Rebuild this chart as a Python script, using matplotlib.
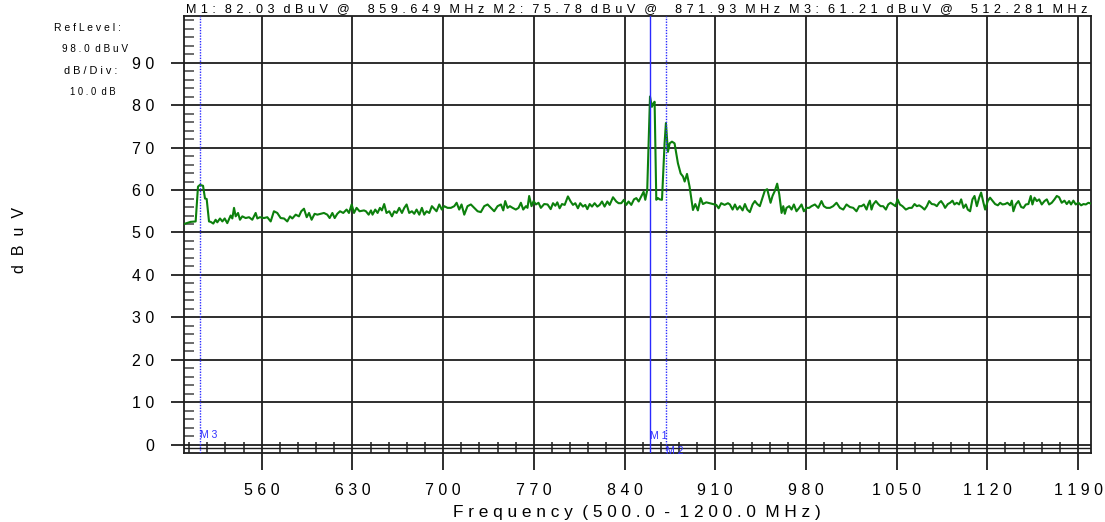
import matplotlib
matplotlib.use("Agg")
import matplotlib.pyplot as plt
import numpy as np

# ---------------- data ----------------
freq_a = [500.0, 502.1, 505.1, 509.0, 510.8, 512.3, 514.7, 516.2, 517.5, 519.3, 520.6, 522.6,
          524.4, 525.7, 527.8, 529.6, 531.4, 533.4, 536.0, 537.3, 538.6, 539.9, 541.7, 543.2,
          545.0, 547.6, 550.2, 552.7, 555.3, 556.6, 558.6, 561.7, 564.3, 566.9, 569.4, 572.0,
          574.6, 577.2, 579.7, 581.8, 583.6, 586.2, 588.7, 590.5, 592.6, 594.7, 596.5, 598.5,
          600.8, 602.9, 605.5, 608.0, 610.6, 612.4, 614.5, 616.3, 618.3, 620.4, 622.9, 625.5,
          627.3, 629.4, 631.2, 633.2, 635.5, 638.9]
level_a = [52.0, 52.2, 52.5, 52.6, 60.8, 61.21, 61.0, 58.0, 57.9, 52.6, 52.5, 52.1,
           53.0, 52.4, 53.3, 52.6, 53.3, 52.2, 54.0, 53.3, 55.8, 53.8, 54.6, 53.0,
           53.8, 53.4, 53.6, 53.0, 54.6, 53.3, 53.6, 53.4, 53.6, 52.6, 55.0, 54.6,
           53.4, 53.3, 52.6, 53.8, 53.3, 54.2, 53.8, 55.0, 55.6, 53.6, 54.6, 53.0,
           54.4, 54.2, 54.4, 54.6, 54.2, 53.4, 54.6, 53.4, 54.4, 55.0, 54.6, 55.4,
           54.6, 56.6, 54.6, 55.8, 55.0, 55.2]

freq_b = [640.4, 642.5, 644.3, 645.5, 647.6, 649.4, 651.2, 652.7, 654.5, 656.3,
          658.4, 660.5, 662.3, 664.1, 666.1, 668.2, 670.0, 671.8, 673.8, 675.9,
          677.7, 679.5, 681.6, 683.6, 685.4, 687.2, 689.3, 691.3, 693.1, 694.9,
          697.0, 699.0, 700.8, 703.4, 706.0, 708.6, 710.4, 712.4, 714.2, 716.3,
          718.8, 721.4, 724.0, 726.6, 729.1, 731.7, 734.3, 736.9, 739.4, 742.0,
          744.6, 746.4, 747.9, 749.7, 751.5, 753.6, 756.1, 758.2, 760.0, 761.8,
          763.9, 765.1, 766.4, 768.2, 769.8, 771.6, 773.6, 775.4, 778.0, 780.6]
level_b = [55.0, 54.2, 55.2, 54.2, 55.4, 54.6, 55.8, 55.2, 56.7, 54.6,
           55.0, 53.8, 55.0, 54.6, 55.8, 54.6, 55.8, 56.6, 54.6, 55.0,
           54.4, 55.4, 54.2, 55.8, 54.2, 55.0, 54.6, 56.2, 55.6, 55.0,
           56.6, 55.4, 56.2, 55.8, 55.8, 56.2, 57.0, 55.4, 56.6, 54.2,
           56.2, 56.6, 55.8, 55.0, 54.8, 56.2, 56.6, 55.8, 55.0, 56.2,
           56.6, 55.2, 57.4, 55.8, 56.2, 55.8, 55.4, 55.8, 57.0, 55.4,
           56.2, 55.8, 58.6, 56.2, 57.4, 56.6, 57.0, 55.8, 56.7, 56.6]

freq_c = [783.0, 784.8, 786.6, 788.1, 789.9, 791.7, 793.8, 796.3, 798.4,
          800.2, 802.0, 804.0, 805.8, 807.9, 809.7, 811.3, 813.1, 814.9, 816.9,
          819.0, 820.8, 822.6, 824.6, 826.7, 828.5, 831.1, 833.6, 835.4, 837.5,
          839.5, 841.3, 843.1, 845.2, 847.3, 849.1, 850.9, 852.9, 854.7, 856.0,
          857.5, 859.649, 861.1, 862.2, 863.2, 864.5, 865.8, 867.1, 868.9, 870.9,
          871.93, 873.5, 874.8, 876.6, 878.6, 881.2, 883.3, 885.1, 886.4, 888.2,
          890.2, 892.8, 894.6, 896.6, 898.7, 900.5, 903.1, 905.6, 908.2, 910.8,
          912.6, 914.6, 917.2, 919.8]
level_c = [55.5, 56.9, 56.3, 57.1, 55.7, 56.7, 56.5, 58.5, 57.3,
           56.5, 56.9, 55.7, 56.9, 56.1, 56.5, 55.5, 56.7, 56.1, 56.9,
           56.1, 56.5, 57.3, 56.1, 57.3, 56.5, 58.3, 57.3, 56.9, 56.9,
           57.7, 56.5, 57.3, 56.5, 57.8, 58.1, 57.3, 58.5, 59.6, 57.7,
           60.0, 82.03, 79.6, 80.4, 80.8, 57.7, 58.1, 57.8, 57.7, 71.0,
           75.78, 69.0, 71.0, 71.4, 71.0, 66.3, 63.9, 63.2, 62.0, 63.8,
           60.8, 55.3, 56.7, 55.2, 58.1, 56.7, 57.1, 56.9, 56.7, 56.5,
           55.7, 56.9, 56.5, 56.9]

freq_d = [921.3, 923.4, 925.2, 927.0, 929.0, 931.1, 932.9, 934.7, 936.7, 938.8,
          940.6, 942.4, 944.4, 946.5, 948.3, 950.1, 951.7, 952.7, 954.2, 956.0,
          957.8, 959.4, 961.2, 962.5, 963.7, 965.0, 967.1, 968.9, 970.7, 972.7,
          974.8, 976.6, 978.4, 980.5, 982.5, 984.3, 986.9, 989.5, 992.0, 993.8,
          995.9, 998.5, 1001.0, 1003.6, 1006.2, 1008.8, 1011.3, 1013.9, 1016.5, 1019.0,
          1021.1, 1022.9, 1024.7, 1026.8, 1028.0, 1029.3, 1030.6, 1031.9, 1034.0, 1035.8,
          1037.6, 1039.6, 1041.7, 1043.5, 1045.3, 1047.3, 1049.1, 1050.7, 1052.5, 1054.5,
          1057.1, 1059.7]
level_d = [56.6, 55.4, 56.6, 55.4, 56.2, 55.2, 56.7, 55.4, 54.8, 56.6,
           57.4, 56.7, 56.2, 58.2, 59.9, 60.2, 58.2, 57.0, 58.6, 59.8,
           61.5, 59.0, 54.6, 56.2, 54.4, 55.8, 56.2, 55.4, 56.6, 55.0,
           55.8, 56.6, 55.0, 55.8, 55.8, 56.2, 56.6, 55.8, 57.4, 56.2,
           55.8, 55.8, 56.2, 57.0, 55.8, 55.4, 56.6, 56.0, 55.8, 55.0,
           56.2, 56.2, 56.6, 55.4, 56.6, 57.5, 55.4, 56.6, 57.4, 56.7,
           56.2, 56.2, 55.4, 56.6, 57.0, 56.6, 56.2, 57.8, 56.6, 56.2,
           55.4, 55.8]

freq_e = [1061.7, 1063.8, 1065.6, 1067.4, 1069.4, 1071.5, 1073.3, 1075.1, 1077.1, 1079.2,
          1081.0, 1082.8, 1084.3, 1086.1, 1087.4, 1089.5, 1091.3, 1093.1, 1094.6, 1096.4,
          1098.2, 1099.8, 1101.6, 1103.4, 1104.9, 1106.7, 1108.5, 1110.1, 1111.9, 1113.7,
          1115.2, 1117.0, 1118.3, 1120.3, 1122.1, 1123.9, 1126.0, 1128.1, 1129.9, 1131.7,
          1133.7, 1135.5, 1137.6, 1138.9, 1140.1, 1141.9, 1144.0, 1146.1, 1147.9, 1149.7,
          1151.7, 1153.5, 1154.8, 1156.4, 1158.2, 1160.0, 1162.0, 1164.1, 1165.9, 1167.7,
          1169.7, 1171.8, 1173.6, 1175.4, 1177.4, 1179.5, 1181.3, 1183.1, 1184.6, 1186.4,
          1188.2, 1190.3, 1192.4, 1194.2, 1196.0, 1198.0, 1200.0]
level_e = [55.8, 56.7, 56.2, 56.4, 56.0, 55.4, 56.2, 57.4, 56.7, 56.6,
           56.2, 57.0, 57.4, 56.6, 55.8, 56.7, 57.0, 57.5, 56.6, 57.0,
           56.6, 57.8, 55.8, 56.6, 55.4, 55.0, 57.8, 58.6, 56.2, 58.2,
           59.4, 57.0, 55.4, 57.4, 58.2, 57.5, 56.7, 56.4, 57.0, 56.6,
           56.7, 57.0, 56.4, 57.5, 55.0, 56.6, 57.4, 56.0, 55.8, 56.6,
           56.7, 58.6, 56.6, 58.2, 57.4, 57.8, 56.6, 57.4, 57.8, 56.6,
           57.0, 57.8, 58.6, 58.3, 57.0, 57.5, 56.7, 57.4, 56.6, 57.5,
           56.6, 57.0, 56.4, 56.7, 56.6, 57.0, 56.8]

freq = np.array(freq_a + freq_b + freq_c + freq_d + freq_e)
level = np.array(level_a + level_b + level_c + level_d + level_e)

marker_names = ["M1", "M2", "M3"]
marker_freq = [859.649, 871.93, 512.281]
marker_level = [82.03, 75.78, 61.21]

xticks = [560, 630, 700, 770, 840, 910, 980, 1050, 1120, 1190]
yticks = [0, 10, 20, 30, 40, 50, 60, 70, 80, 90]

ref_level = 98.0
db_div = 10.0
f_start, f_stop = 500.0, 1200.0


def spaced(s, gap=" "):
    """Letter-spaced rendering: one gap between letters, two between words."""
    return (gap * 2).join(gap.join(w) for w in s.split(" "))


# ---------------- figure ----------------
W, H = 1105, 522
plt.rcParams["font.family"] = ["Liberation Sans", "DejaVu Sans"]
fig = plt.figure(figsize=(W / 100, H / 100), dpi=100)
fig.patch.set_facecolor("white")
ax = fig.add_axes([184 / W, 1 - 453 / H, (1091 - 184) / W, (453 - 16) / H])
ax.set_xlim(f_start, f_stop)
ax.set_ylim(-1.95, 101)

gc = "#1e1e1e"
ax.set_xticks(xticks)
ax.set_xticklabels([spaced(str(v)) for v in xticks])
ax.set_yticks(yticks)
ax.set_yticklabels([spaced(str(v)) for v in yticks])
ax.set_xticks(np.arange(504, 1200, 14), minor=True)
ax.set_yticks(np.arange(0, 101, 2), minor=True)
ax.grid(True, which="major", color=gc, lw=1.3, zorder=1)
ax.axhline(-0.7, color=gc, lw=1.0, zorder=1)

ax.tick_params(axis="x", which="major", direction="out", length=12.5, width=1.3,
               color=gc, pad=9, labelsize=11.5)
ax.tick_params(axis="x", which="minor", direction="in", length=8, width=1.1, color=gc)
ax.tick_params(axis="y", which="major", direction="out", length=9.5, width=1.3,
               color=gc, pad=12, labelsize=11.5)
ax.tick_params(axis="y", which="minor", direction="in", length=7.5, width=1.1, color="#444444")
for s in ax.spines.values():
    s.set_color(gc)
    s.set_linewidth(1.3)

# trace
ax.plot(freq, level, color="#0c800c", lw=1.5, zorder=3)

# markers
mstyle = {"M1": "-", "M2": (0, (1, 1)), "M3": (0, (1, 1))}
for name, f in zip(marker_names, marker_freq):
    ax.axvline(f, color="#2a2aff", lw=1.0, ls=mstyle[name], zorder=4)
label_y = {"M1": 2.0, "M2": -1.5, "M3": 2.4}
for name, f in zip(marker_names, marker_freq):
    ax.text(f + 0.3, label_y[name], spaced(name), color="#3030ff", fontsize=7.5,
            ha="left", va="center", zorder=5)

# title with marker readouts
title = " ".join(
    f"{n}: {lv:.2f} dBuV @  {fr:g} MHz"
    for n, fr, lv in zip(marker_names, marker_freq, marker_level)
)
renderer = fig.canvas.get_renderer()


def fit(t, width_px):
    w = t.get_window_extent(renderer).width
    t.set_fontsize(t.get_fontsize() * width_px / w)


t_title = fig.text(186 / W, 1 - 9 / H, spaced(title, " \u200a"), ha="left", va="center",
                   fontsize=10)
fit(t_title, 902)

xl = fig.text(637 / W, 1 - 512 / H, spaced(f"Frequency ({f_start:.1f} - {f_stop:.1f} MHz)"),
              ha="center", va="center", fontsize=11.5)
fit(xl, 370)

yl = fig.text(20 / W, 1 - 240 / H, spaced("dBuV", "  "), rotation=90, ha="center",
              va="center", fontsize=11.5)

side = [("RefLevel:", 87, 28, 67), (f"{ref_level:.1f} dBuV", 95, 49, 66),
        ("dB/Div:", 91, 71, 54), (f"{db_div:.1f} dB", 93, 92, 46)]
for txt, x, y, wpx in side:
    t = fig.text(x / W, 1 - y / H, spaced(txt), ha="center", va="center", fontsize=7)
    fit(t, wpx)

fig.savefig("out.png", dpi=100, facecolor="white")
